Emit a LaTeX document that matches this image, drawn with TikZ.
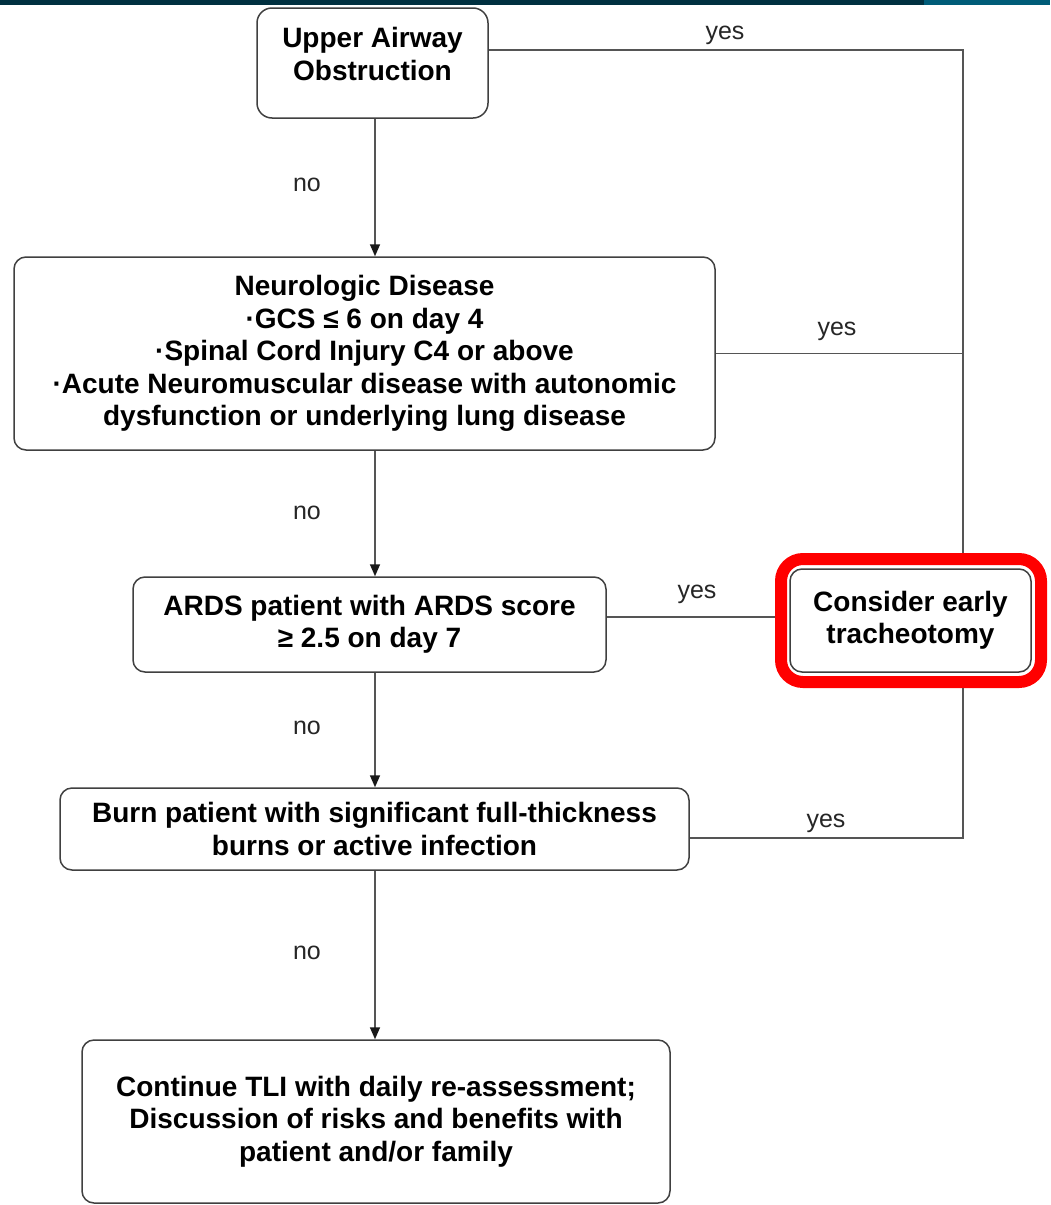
\documentclass[tikz,border=0pt]{standalone}
\usepackage{fontspec}
\setmainfont{Liberation Sans}
\usetikzlibrary{arrows.meta,calc}
\definecolor{bardark}{HTML}{003040}
\definecolor{barteal}{HTML}{005C78}
\definecolor{linegray}{HTML}{555555}
\definecolor{boxgray}{HTML}{404040}
\tikzset{
  box/.style={draw=boxgray, line width=1.5pt, rounded corners=12pt, align=center, inner sep=0pt,
    font=\fontsize{28}{32.5}\selectfont\bfseries},
  conn/.style={draw=linegray, line width=1.6pt},
  arr/.style={conn, -{Triangle[length=12pt,width=10pt,fill=black!90,color=black!90]}},
  lab/.style={font=\fontsize{25}{28}\selectfont, text=black!85, inner sep=0pt}
}
\begin{document}
\begin{tikzpicture}[x=1pt,y=-1pt]
\useasboundingbox (0,0) rectangle (1050,1205);
\fill[white] (0,0) rectangle (1050,1205);
\fill[bardark] (0,0) rectangle (924,5);
\fill[barteal] (924,0) rectangle (1050,5);

% boxes
\node[box, rounded corners=15pt, minimum width=231, minimum height=110,
      label={[yshift=9pt, font=\fontsize{28}{32.5}\selectfont\bfseries, align=center]center:Upper Airway\\Obstruction}]
      (b1) at (372.5,63) {};
\node[box, minimum width=701, minimum height=193] (b2) at (364.5,353.5)
  {Neurologic Disease\\·GCS ≤ 6 on day 4\\·Spinal Cord Injury C4 or above\\·Acute Neuromuscular disease with autonomic\\dysfunction or underlying lung disease};
\node[box, minimum width=473, minimum height=95] (b3) at (369.5,624.5)
  {ARDS patient with ARDS score\\≥ 2.5 on day 7};
\node[box, minimum width=629, minimum height=82] (b4) at (374.5,829)
  {Burn patient with significant full-thickness\\burns or active infection};
\node[box, minimum width=588, minimum height=163] (b5) at (376,1121.5)
  {Continue TLI with daily re-assessment;\\Discussion of risks and benefits with\\patient and/or family};
\node[box, minimum width=241, minimum height=103] (tr) at (910.5,620.5)
  {Consider early\\tracheotomy};
\node[draw=red, line width=12pt, rounded corners=22pt, minimum width=260, minimum height=123, inner sep=0pt] (red) at (911,620.5) {};

% helper coordinates
\coordinate (ax) at (375,0);
\coordinate (c1) at (963,50);
\coordinate (c3) at (700,617);
\coordinate (c4) at (963,838);

% no-arrows
\draw[arr] (b1.south -| ax) -- (b2.north -| ax);
\draw[arr] (b2.south -| ax) -- (b3.north -| ax);
\draw[arr] (b3.south -| ax) -- (b4.north -| ax);
\draw[arr] (b4.south -| ax) -- (b5.north -| ax);

% yes-lines
\draw[conn] (b1.east |- c1) -- (c1) -- (c1 |- red.north);
\draw[conn] (b2.east) -- (b2.east -| c1);
\draw[conn] (b3.east |- c3) -- (red.west |- c3);
\draw[conn] (b4.east |- c4) -- (c4) -- (c4 |- red.south);

% labels
\node[lab] (n1) at (307,185) {no};
\node[lab] (n2) at (307,513) {no};
\node[lab] (n3) at (307,728) {no};
\node[lab] (n4) at (307,953) {no};
\node[lab] (y1) at (725,35) {yes};
\node[lab] (y2) at (837,331) {yes};
\node[lab] (y3) at (697,594) {yes};
\node[lab] (y4) at (826,823) {yes};
\end{tikzpicture}
\end{document}
